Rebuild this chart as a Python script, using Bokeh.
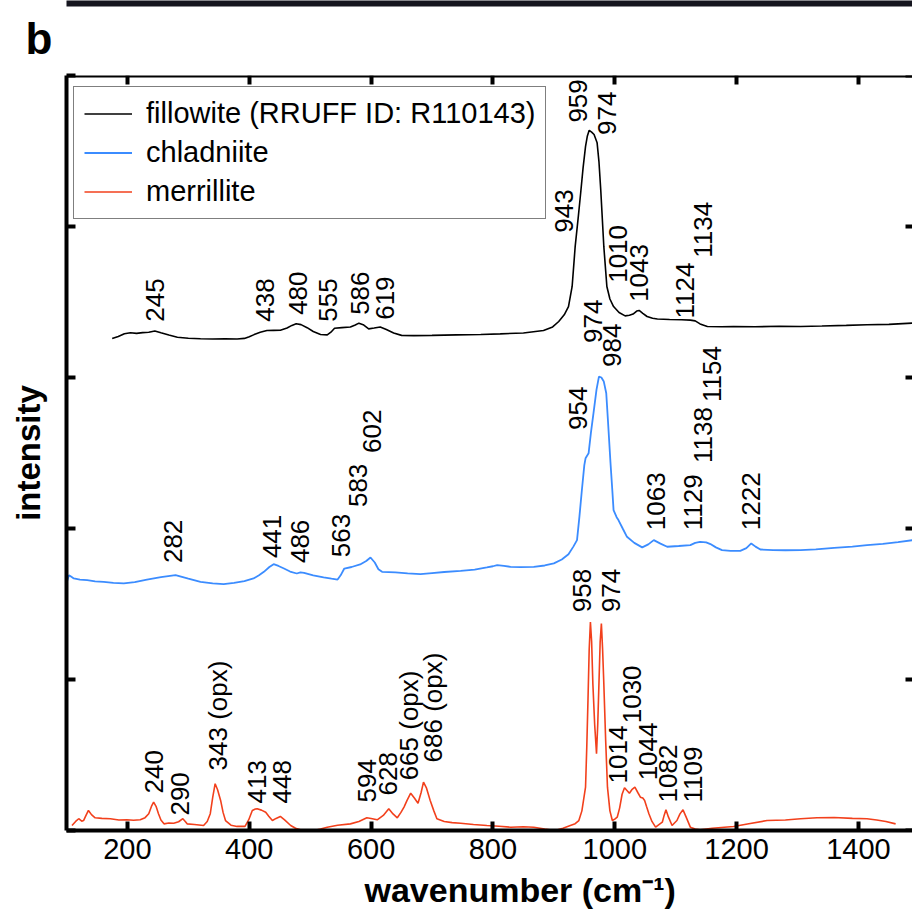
import math
from bokeh.plotting import figure
from bokeh.models import Range1d, FixedTicker, LinearAxis, Title, Grid
from bokeh.core.properties import value
from bokeh.embed import file_html
from bokeh.resources import INLINE

# ---------------- data ----------------
x_ticks = [200, 400, 600, 800, 1000, 1200, 1400]
y_ticks = [0, 1, 2, 3, 4, 5]

fil_x = [175, 185, 195, 205, 215, 225, 235, 245, 255, 268, 282, 300, 320, 340, 360, 380, 392, 400,
         408, 418, 429, 440, 451, 462, 470, 477, 485, 495, 505, 517, 528, 534, 540, 552, 566, 574,
         580, 587, 596, 605, 615, 625, 637, 650, 670, 700, 740, 780, 812, 850, 883, 898, 908, 917,
         924, 930, 935, 940, 944, 948, 952, 955, 958, 962, 966, 971, 974, 977, 982, 987, 992, 998,
         1007, 1017, 1024, 1030, 1036, 1040, 1046, 1053, 1062, 1070, 1090, 1110, 1124, 1132, 1140,
         1152, 1175, 1195, 1230, 1270, 1305, 1340, 1380, 1414, 1450, 1489]
fil_y = [3.258, 3.272, 3.290, 3.296, 3.292, 3.297, 3.300, 3.308, 3.296, 3.281, 3.267, 3.260, 3.257,
         3.255, 3.256, 3.255, 3.259, 3.270, 3.284, 3.300, 3.311, 3.312, 3.313, 3.328, 3.345, 3.356,
         3.350, 3.330, 3.305, 3.285, 3.282, 3.300, 3.326, 3.330, 3.334, 3.348, 3.360, 3.350, 3.322,
         3.328, 3.335, 3.318, 3.295, 3.279, 3.277, 3.279, 3.282, 3.285, 3.289, 3.295, 3.311, 3.335,
         3.371, 3.415, 3.470, 3.603, 3.868, 4.060, 4.222, 4.390, 4.531, 4.600, 4.637, 4.625, 4.609,
         4.554, 4.430, 4.240, 3.868, 3.603, 3.520, 3.470, 3.430, 3.408, 3.412, 3.420, 3.440, 3.444,
         3.425, 3.404, 3.392, 3.387, 3.384, 3.382, 3.380, 3.375, 3.355, 3.338, 3.336, 3.338, 3.336,
         3.339, 3.338, 3.341, 3.345, 3.349, 3.352, 3.360]

chl_x = [100, 104, 108, 112, 122, 134, 147, 161, 177, 194, 212, 232, 255, 279, 300, 320, 340, 358,
         375, 392, 407, 416, 424, 433, 440, 448, 457, 467, 478, 484, 490, 505, 522, 535, 545, 550,
         556, 568, 582, 592, 599, 606, 612, 618, 640, 660, 681, 700, 720, 747, 770, 790, 800, 807,
         818, 829, 845, 867, 885, 900, 913, 924, 932, 938, 942, 946, 950, 952, 957, 961, 965, 970,
         974, 978, 982, 986, 989, 993, 996, 998, 1003, 1006, 1013, 1020, 1032, 1045, 1055, 1064,
         1075, 1086, 1105, 1124, 1132, 1140, 1150, 1157, 1166, 1176, 1190, 1206, 1216, 1224, 1231,
         1239, 1260, 1280, 1305, 1330, 1360, 1390, 1414, 1440, 1465, 1489]
chl_y = [1.640, 1.691, 1.680, 1.669, 1.662, 1.658, 1.650, 1.647, 1.640, 1.636, 1.645, 1.662, 1.678,
         1.691, 1.668, 1.647, 1.636, 1.631, 1.640, 1.652, 1.669, 1.690, 1.713, 1.745, 1.764, 1.752,
         1.735, 1.715, 1.702, 1.710, 1.706, 1.690, 1.676, 1.668, 1.662, 1.690, 1.735, 1.745, 1.762,
         1.785, 1.808, 1.775, 1.730, 1.713, 1.710, 1.703, 1.698, 1.705, 1.712, 1.719, 1.728, 1.742,
         1.750, 1.757, 1.752, 1.746, 1.744, 1.746, 1.755, 1.769, 1.795, 1.830, 1.880, 1.923, 2.080,
         2.255, 2.420, 2.465, 2.498, 2.640, 2.763, 2.920, 3.006, 3.000, 2.973, 2.896, 2.700, 2.432,
         2.250, 2.122, 2.075, 2.056, 2.000, 1.945, 1.905, 1.875, 1.895, 1.923, 1.900, 1.879, 1.884,
         1.890, 1.905, 1.912, 1.908, 1.897, 1.875, 1.857, 1.852, 1.852, 1.870, 1.901, 1.880, 1.861,
         1.857, 1.856, 1.857, 1.862, 1.872, 1.880, 1.890, 1.898, 1.910, 1.923]

mer_x = [109, 115, 120, 125, 128, 132, 136, 141, 147, 158, 172, 186, 199, 210, 221, 229, 235, 240,
         243, 247, 251, 255, 260, 268, 276, 284, 291, 295, 298, 310, 325, 331, 336, 340, 344, 348,
         353, 357, 361, 370, 380, 393, 399, 405, 410, 413, 420, 427, 432, 438, 444, 451, 458, 468,
         476, 484, 495, 506, 517, 528, 545, 566, 580, 593, 600, 610, 620, 629, 636, 643, 649, 654,
         659, 665, 671, 677, 682, 686, 691, 697, 703, 708, 720, 733, 747, 768, 790, 810, 829, 850,
         867, 885, 902, 915, 927, 935, 941, 946, 952, 954, 956, 958, 960, 962, 964, 967, 970, 972,
         974, 976, 978, 980, 982, 985, 988, 992, 996, 1000, 1004, 1008, 1012, 1016, 1020, 1024,
         1028, 1033, 1038, 1042, 1046, 1049, 1052, 1056, 1061, 1067, 1073, 1078, 1081, 1084, 1088,
         1094, 1098, 1102, 1107, 1112, 1117, 1124, 1132, 1140, 1160, 1180, 1195, 1220, 1250, 1280,
         1305, 1332, 1360, 1390, 1414, 1430, 1445, 1461]
mer_y = [0.033, 0.060, 0.078, 0.062, 0.066, 0.100, 0.133, 0.105, 0.084, 0.080, 0.078, 0.070, 0.071,
         0.068, 0.071, 0.085, 0.111, 0.165, 0.188, 0.160, 0.111, 0.070, 0.044, 0.050, 0.048, 0.058,
         0.078, 0.060, 0.044, 0.040, 0.033, 0.060, 0.111, 0.220, 0.310, 0.270, 0.199, 0.120, 0.066,
         0.035, 0.027, 0.027, 0.070, 0.133, 0.142, 0.144, 0.135, 0.121, 0.095, 0.066, 0.080, 0.093,
         0.070, 0.033, 0.015, 0.005, 0.002, 0.000, 0.010, 0.022, 0.035, 0.044, 0.060, 0.084, 0.080,
         0.071, 0.100, 0.144, 0.110, 0.084, 0.120, 0.155, 0.200, 0.247, 0.215, 0.181, 0.250, 0.320,
         0.280, 0.199, 0.130, 0.078, 0.060, 0.052, 0.048, 0.040, 0.033, 0.028, 0.022, 0.025, 0.022,
         0.010, 0.000, 0.015, 0.033, 0.045, 0.066, 0.130, 0.287, 0.550, 0.862, 1.200, 1.381, 1.250,
         0.973, 0.700, 0.509, 0.700, 0.973, 1.250, 1.371, 1.200, 0.973, 0.600, 0.287, 0.130, 0.066,
         0.075, 0.088, 0.150, 0.240, 0.283, 0.265, 0.247, 0.270, 0.287, 0.250, 0.221, 0.215, 0.199,
         0.160, 0.111, 0.060, 0.022, 0.040, 0.055, 0.100, 0.137, 0.090, 0.033, 0.050, 0.066, 0.110,
         0.137, 0.090, 0.022, 0.010, 0.005, 0.015, 0.022, 0.027, 0.045, 0.066, 0.070, 0.078, 0.084,
         0.086, 0.080, 0.078, 0.070, 0.060, 0.044]

# peak annotations: text, anchor wavenumber, anchor intensity (text starts here, rotated)
peak_text = ["245", "438", "480", "555", "586", "619", "943", "959", "974", "1010", "1043", "1124", "1134",
             "282", "441", "486", "563", "583", "602", "954", "974", "984", "1063", "1129", "1138", "1154", "1222",
             "240", "290", "343 (opx)", "413", "448", "594", "628", "665 (opx)", "686 (opx)", "958", "974",
             "1014", "1030", "1044", "1082", "1109"]
peak_x = [246, 426, 480, 530, 582, 622, 916, 940, 988, 1006, 1039, 1116, 1144,
          274, 438, 484, 550, 578, 602, 939, 965, 996, 1067, 1129, 1144, 1160, 1223,
          243, 287, 348, 413, 454, 594, 628, 663, 701, 947, 993,
          1006, 1029, 1055, 1088, 1129]
peak_y = [3.369, 3.369, 3.415, 3.369, 3.415, 3.382, 3.959, 4.688, 4.606, 3.627, 3.501, 3.391, 3.793,
          1.771, 1.804, 1.771, 1.810, 2.142, 2.500, 2.653, 3.229, 3.070, 1.989, 1.989, 2.434, 2.838, 1.989,
          0.245, 0.099, 0.398, 0.179, 0.179, 0.186, 0.232, 0.332, 0.451, 1.446, 1.446,
          0.312, 0.710, 0.332, 0.186, 0.186]

# ---------------- figure ----------------
FONT = "Liberation Sans"
X_END = 1488.7
p = figure(width=912, height=924, x_range=Range1d(100, X_END), y_range=Range1d(0, 5),
           output_backend="svg", toolbar_location=None,
           x_axis_location=None, y_axis_location=None,
           min_border_left=66, min_border_right=0, min_border_top=75, min_border_bottom=94)
p.outline_line_color = None
p.title.visible = False
for r in list(p.center):
    if isinstance(r, Grid):
        r.visible = False


def make_axis(ticks, label_size, standoff, blank=False, **kw):
    ax = LinearAxis(ticker=FixedTicker(ticks=ticks), axis_line_width=4, axis_line_color="black",
                    major_tick_in=9, major_tick_out=0, major_tick_line_width=4,
                    major_tick_line_color="black", minor_tick_line_color=None,
                    major_label_text_font=FONT, major_label_text_font_size=label_size,
                    major_label_text_color="black", major_label_standoff=standoff, **kw)
    if blank:
        ax.major_label_overrides = {t: "" for t in ticks}
    return ax


bottom = make_axis(x_ticks, "29px", 8)
top = make_axis(x_ticks, "10px", 0, blank=True)
top.fixed_location = 5
left = make_axis(y_ticks, "10px", 0, blank=True, axis_label="intensity", axis_label_text_font=FONT,
                 axis_label_text_font_size="33px", axis_label_text_font_style="bold",
                 axis_label_text_color="black", axis_label_standoff=20)
right = make_axis(y_ticks, "10px", 0, blank=True)
right.fixed_location = X_END
right.axis_line_alpha = 0
right.major_tick_in = 7
p.add_layout(bottom, "below")
p.add_layout(left, "left")
p.add_layout(right, "right")

# x-axis title as a side-panel title (shifted like the reference, whose frame is wider)
xt = Title(text="wavenumber (cm\u207b\u00b9)", align="left", offset=298, standoff=14,
           vertical_align="bottom",
           text_font=FONT, text_font_style="bold", text_font_size="34px", text_color="black")
p.add_layout(xt, "below")

# above: top ticks, panel letter, then the dark strip of the panel above
p.add_layout(top, "above")
bt = Title(text="b", align="left", offset=-41, standoff=21, vertical_align="top",
           text_font=FONT, text_font_style="bold", text_font_size="44px", text_color="black")
p.add_layout(bt, "above")
strip = LinearAxis(ticker=FixedTicker(ticks=[]), axis_line_width=6, axis_line_color="#15151f",
                   major_tick_line_color=None, minor_tick_line_color=None,
                   major_label_standoff=0, major_tick_out=0, major_tick_in=0)
p.add_layout(strip, "above")

p.line(fil_x, fil_y, line_color="black", line_width=1.6, legend_label="fillowite (RRUFF ID: R110143)")
p.line(chl_x, chl_y, line_color="#3b8cff", line_width=1.8, legend_label="chladniite")
p.line(mer_x, mer_y, line_color="#f2401c", line_width=1.6, legend_label="merrillite")

p.text(x=peak_x, y=peak_y, text=peak_text, angle=math.pi / 2, text_align="left",
       text_baseline="middle", text_font=value(FONT), text_font_size="26px", text_color="black")

leg = p.legend[0]
leg.location = (7, 611)
leg.label_text_font = FONT
leg.label_text_font_size = "29px"
leg.label_text_color = "black"
leg.glyph_width = 48
leg.glyph_height = 31
leg.label_height = 31
leg.spacing = 6
leg.padding = 10
leg.margin = 0
leg.label_standoff = 14
leg.border_line_color = "black"
leg.border_line_width = 1.5
leg.background_fill_alpha = 1

open("out.html", "w").write(file_html(p, INLINE))
